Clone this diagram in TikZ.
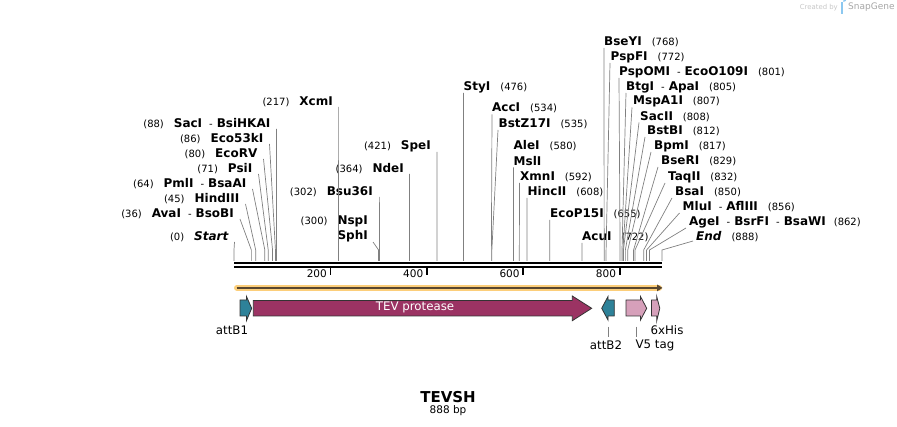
\documentclass[tikz,border=0pt]{standalone}
\usepackage{fontspec}
\setmainfont{DejaVu Sans}
\usetikzlibrary{arrows.meta}
\definecolor{attteal}{RGB}{46,130,153}
\definecolor{tevred}{RGB}{155,51,99}
\definecolor{tagpink}{RGB}{214,160,186}
\definecolor{orfbar}{RGB}{252,206,122}
\definecolor{orfline}{RGB}{88,70,48}
\definecolor{leadgray}{RGB}{128,128,128}
\definecolor{logoblue}{RGB}{140,200,240}
\newcommand{\enz}[1]{{\fontsize{12}{14}\selectfont\bfseries #1}}
\newcommand{\enzsep}{\hspace{7pt}-\hspace{4pt}}
\newcommand{\numgap}{\hspace{10pt}}

\begin{document}
\begin{tikzpicture}[x=1pt,y=-1pt]
\tikzstyle{every node}=[inner sep=0pt, font=\fontsize{10}{12}\selectfont]
\tikzstyle{lsite}=[anchor=east]
\tikzstyle{rsite}=[anchor=west]
\tikzstyle{leader}=[draw=leadgray, line width=0.7pt]
\tikzstyle{backbone}=[draw=black, line width=2.3pt]
\tikzstyle{tickmark}=[draw=black, line width=1.8pt]
\tikzstyle{feat}=[draw=black!80, line width=0.8pt]
\tikzstyle{flabel}=[font=\fontsize{11.8}{14}\selectfont]
\useasboundingbox (0,0) rectangle (897,427);

% cut positions on the backbone
\foreach \n in {0,36,45,64,71,80,86,88,217,300,302,364,421,476,534,535,580,592,608,655,722,768,772,801,805,807,808,812,817,829,832,850,856,862,888}
  \coordinate (p\n) at ({234+0.48198*\n},250);

% backbone and scale
\draw[backbone] (234,262.8) -- (662,262.8);
\draw[backbone] (234,266.9) -- (662,266.9);
\draw[tickmark] (330.4,267.5) -- (330.4,275);
\draw[tickmark] (426.8,267.5) -- (426.8,275);
\draw[tickmark] (523.2,267.5) -- (523.2,275);
\draw[tickmark] (619.6,267.5) -- (619.6,275);
\node[anchor=east, font=\fontsize{10.5}{12}\selectfont] (t200) at (327,274) {200};
\node[anchor=east, font=\fontsize{10.5}{12}\selectfont] (t400) at (423.4,274) {400};
\node[anchor=east, font=\fontsize{10.5}{12}\selectfont] (t600) at (519.8,274) {600};
\node[anchor=east, font=\fontsize{10.5}{12}\selectfont] (t800) at (616.2,274) {800};

% left hand labels
\node[lsite] (sStart) at (228.5,236.5) {(0)\numgap\enz{\itshape Start}};
\node[lsite] (sAvaI) at (234,213.5) {(36)\numgap\enz{AvaI}\enzsep\enz{BsoBI}};
\node[lsite] (sHindIII) at (239.5,198.5) {(45)\numgap\enz{HindIII}};
\node[lsite] (sPmlI) at (246.5,183.5) {(64)\numgap\enz{PmlI}\enzsep\enz{BsaAI}};
\node[lsite] (sPsiI) at (252.5,168.5) {(71)\numgap\enz{PsiI}};
\node[lsite] (sEcoRV) at (257.5,153.5) {(80)\numgap\enz{EcoRV}};
\node[lsite] (sEco53kI) at (263.5,138.5) {(86)\numgap\enz{Eco53kI}};
\node[lsite] (sSacI) at (270.5,123.5) {(88)\numgap\enz{SacI}\enzsep\enz{BsiHKAI}};
\node[lsite] (sXcmI) at (333,101.5) {(217)\numgap\enz{XcmI}};
\node[lsite] (sNspI) at (368,221.5) {(300)\numgap\enz{NspI}};
\node[lsite] (sSphI) at (368,236.5) {\enz{SphI}};
\node[lsite] (sBsu36I) at (373,191.5) {(302)\numgap\enz{Bsu36I}};
\node[lsite] (sNdeI) at (404,168.5) {(364)\numgap\enz{NdeI}};
\node[lsite] (sSpeI) at (431,146.5) {(421)\numgap\enz{SpeI}};

\draw[leader] ([shift={(6,5.5)}]sStart.east) -- (p0) -- ++(0,11);
\draw[leader] ([shift={(6,5.5)}]sAvaI.east) -- (p36) -- ++(0,11);
\draw[leader] ([shift={(6,5.5)}]sHindIII.east) -- (p45) -- ++(0,11);
\draw[leader] ([shift={(6,5.5)}]sPmlI.east) -- (p64) -- ++(0,11);
\draw[leader] ([shift={(6,5.5)}]sPsiI.east) -- (p71) -- ++(0,11);
\draw[leader] ([shift={(6,5.5)}]sEcoRV.east) -- (p80) -- ++(0,11);
\draw[leader] ([shift={(6,5.5)}]sEco53kI.east) -- (p86) -- ++(0,11);
\draw[leader] ([shift={(6,5.5)}]sSacI.east) -- (p88) -- ++(0,11);
\draw[leader] ([shift={(5.6,5.5)}]sXcmI.east) -- (p217) -- ++(0,11);
\draw[leader] ([shift={(5,5.5)}]sSphI.east) -- (p300) -- ++(0,11);
\draw[leader] ([shift={(6.6,5.5)}]sBsu36I.east) -- (p302) -- ++(0,11);
\draw[leader] ([shift={(5.5,5.5)}]sNdeI.east) -- (p364) -- ++(0,11);
\draw[leader] ([shift={(6,5.5)}]sSpeI.east) -- (p421) -- ++(0,11);

% right hand labels
\node[rsite] (sStyI) at (463.5,87) {\enz{StyI}\numgap(476)};
\node[rsite] (sAccI) at (492,108) {\enz{AccI}\numgap(534)};
\node[rsite] (sBstZ17I) at (498.5,124) {\enz{BstZ17I}\numgap(535)};
\node[rsite] (sAleI) at (513.5,146) {\enz{AleI}\numgap(580)};
\node[rsite] (sMslI) at (513.5,161) {\enz{MslI}};
\node[rsite] (sXmnI) at (520,177) {\enz{XmnI}\numgap(592)};
\node[rsite] (sHincII) at (527.5,192) {\enz{HincII}\numgap(608)};
\node[rsite] (sEcoP15I) at (550,213.5) {\enz{EcoP15I}\numgap(655)};
\node[rsite] (sAcuI) at (582,237) {\enz{AcuI}\numgap(722)};
\node[rsite] (sBseYI) at (604,42) {\enz{BseYI}\numgap(768)};
\node[rsite] (sPspFI) at (610.5,57) {\enz{PspFI}\numgap(772)};
\node[rsite] (sPspOMI) at (619,72) {\enz{PspOMI}\enzsep\enz{EcoO109I}\numgap(801)};
\node[rsite] (sBtgI) at (626,87) {\enz{BtgI}\enzsep\enz{ApaI}\numgap(805)};
\node[rsite] (sMspA1I) at (633,101.5) {\enz{MspA1I}\numgap(807)};
\node[rsite] (sSacII) at (640,116.5) {\enz{SacII}\numgap(808)};
\node[rsite] (sBstBI) at (647,131) {\enz{BstBI}\numgap(812)};
\node[rsite] (sBpmI) at (654,146) {\enz{BpmI}\numgap(817)};
\node[rsite] (sBseRI) at (661,161) {\enz{BseRI}\numgap(829)};
\node[rsite] (sTaqII) at (668,177) {\enz{TaqII}\numgap(832)};
\node[rsite] (sBsaI) at (675,192) {\enz{BsaI}\numgap(850)};
\node[rsite] (sMluI) at (682.5,207) {\enz{MluI}\enzsep\enz{AflIII}\numgap(856)};
\node[rsite] (sAgeI) at (689,222) {\enz{AgeI}\enzsep\enz{BsrFI}\enzsep\enz{BsaWI}\hspace{8pt}(862)};
\node[rsite] (sEnd) at (696,237) {\enz{\itshape End}\numgap(888)};

\draw[leader] ([shift={(0,6)}]sStyI.west) -- (p476) -- ++(0,11);
\draw[leader] ([shift={(0,6.5)}]sAccI.west) -- (p534) -- ++(0,11);
\draw[leader] ([shift={(-0.5,6)}]sBstZ17I.west) -- (p535) -- ++(0,11);
\draw[leader] ([shift={(0,6.5)}]sMslI.west) -- (p580) -- ++(0,11);
\draw[leader] ([shift={(-0.5,6)}]sXmnI.west) -- (p592) -- ++(0,11);
\draw[leader] ([shift={(-0.5,6)}]sHincII.west) -- (p608) -- ++(0,11);
\draw[leader] ([shift={(-0.3,6.5)}]sEcoP15I.west) -- (p655) -- ++(0,11);
\draw[leader] ([shift={(0,6)}]sAcuI.west) -- (p722) -- ++(0,11);
\draw[leader] ([shift={(0,6)}]sBseYI.west) -- (p768) -- ++(0,11);
\draw[leader] ([shift={(-0.5,6)}]sPspFI.west) -- (p772) -- ++(0,11);
\draw[leader] ([shift={(0,6)}]sPspOMI.west) -- (p801) -- ++(0,11);
\draw[leader] ([shift={(0,6)}]sBtgI.west) -- (p805) -- ++(0,11);
\draw[leader] ([shift={(-1,6)}]sMspA1I.west) -- (p807) -- ++(0,11);
\draw[leader] ([shift={(-1,6)}]sSacII.west) -- (p808) -- ++(0,11);
\draw[leader] ([shift={(-2,6)}]sBstBI.west) -- (p812) -- ++(0,11);
\draw[leader] ([shift={(-3,6)}]sBpmI.west) -- (p817) -- ++(0,11);
\draw[leader] ([shift={(-3,6)}]sBseRI.west) -- (p829) -- ++(0,11);
\draw[leader] ([shift={(-3,6)}]sTaqII.west) -- (p832) -- ++(0,11);
\draw[leader] ([shift={(-3,6)}]sBsaI.west) -- (p850) -- ++(0,11);
\draw[leader] ([shift={(-3,6)}]sMluI.west) -- (p856) -- ++(0,11);
\draw[leader] ([shift={(-3,6)}]sAgeI.west) -- (p862) -- ++(0,11);
\draw[leader] ([shift={(-3,4)}]sEnd.west) -- (p888) -- ++(0,11);

% open reading frame
\draw[orfbar, line width=5.6pt, line cap=round] (236.8,287.9) -- (659.2,287.9);
\draw[orfline, line width=1.6pt, -{Triangle[length=5.5pt,width=6.5pt]}] (236.5,287.9) -- (662.5,287.9);

% features
\draw[feat, fill=attteal] (240,300) -- (246.5,300) -- (246.5,296.5) -- (251.7,308.3) -- (246.5,320.5) -- (246.5,316) -- (240,316) -- cycle;
\draw[feat, fill=tevred] (253.3,300.5) -- (572.3,300.5) -- (572.3,296) -- (591.7,308.3) -- (572.3,320.7) -- (572.3,316) -- (253.3,316) -- cycle;
\draw[feat, fill=attteal] (614.3,300) -- (608,300) -- (608,296.5) -- (601.7,308.3) -- (608,320) -- (608,316) -- (614.3,316) -- cycle;
\draw[feat, fill=tagpink] (626,300) -- (640.5,300) -- (640.5,296.5) -- (646.7,308.3) -- (640.5,320) -- (640.5,316) -- (626,316) -- cycle;
\draw[feat, fill=tagpink] (651.5,300) -- (656.7,300) -- (656.7,296.5) -- (659.8,308.3) -- (656.7,321) -- (656.7,316) -- (651.5,316) -- cycle;
\node[flabel, text=white] (fTEV) at (415,307.5) {TEV protease};

\node[flabel] (lattB1) at (232,330) {attB1};
\node[flabel] (l6xHis) at (667,330) {6xHis};
\node[flabel] (lattB2) at (606,345) {attB2};
\node[flabel] (lV5) at (655,345) {V5 tag};
\coordinate (kattB2) at (608.3,326.7);
\coordinate (kV5) at (636.7,326.7);
\draw[leader] (kattB2) -- ++(0,10);
\draw[leader] (kV5) -- ++(0,10);

% name and size
\node[font=\fontsize{15}{17}\selectfont\bfseries] (title) at (448,397) {TEVSH};
\node[font=\fontsize{10.5}{12}\selectfont] (size) at (448,411) {888 bp};

% corner credit
\node[anchor=east, text=black!22, font=\fontsize{6.9}{8}\selectfont] (credit) at (838,7.5) {Created by};
\fill[logoblue] (841,2) rectangle (843.3,14);
\fill[logoblue] (843.3,2) arc[start angle=90, end angle=-90, radius=3.3];
\node[anchor=west, text=black!35, font=\fontsize{9}{10}\selectfont] (snapgene) at (848,7.5) {SnapGene};
\end{tikzpicture}
\end{document}
